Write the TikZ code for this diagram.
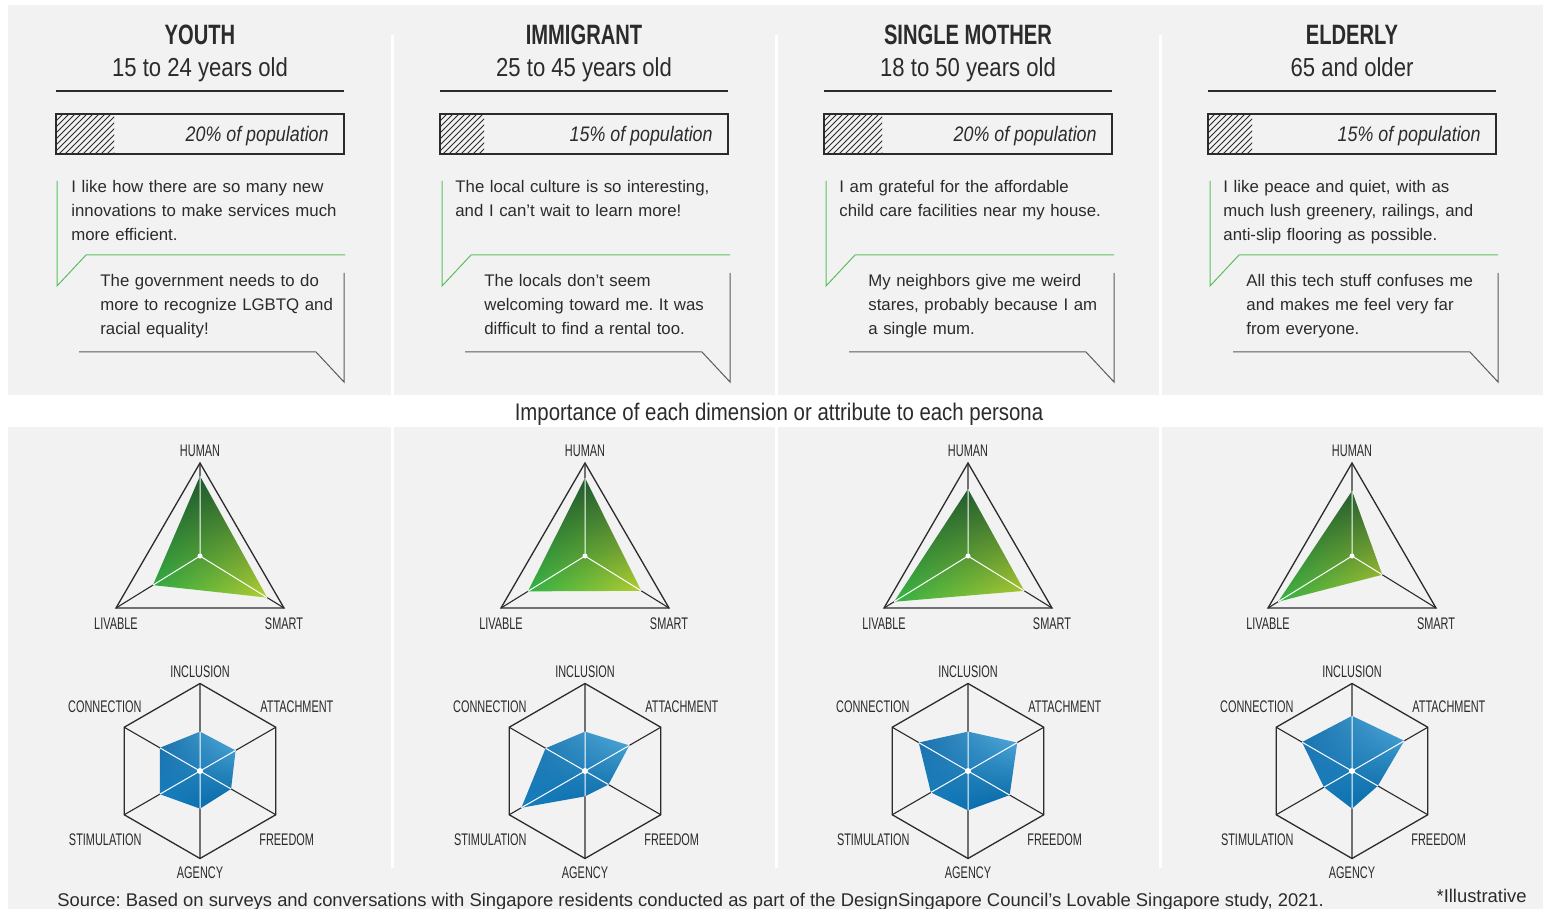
\documentclass[tikz,border=0pt]{standalone}
\usepackage{fontspec}
\setmainfont{Liberation Sans}
\newfontfamily\condfont[FakeStretch=0.72]{Liberation Sans}
\newfontfamily\labelfont[FakeStretch=0.65]{Liberation Sans}
\newfontfamily\semicond[FakeStretch=0.85]{Liberation Sans}
\frenchspacing
\usetikzlibrary{calc,patterns,shadings}

\definecolor{panel}{HTML}{F2F2F2}
\definecolor{ink}{HTML}{2B2B2B}
\definecolor{quote}{HTML}{5CBF5C}
\definecolor{bubble}{HTML}{5A5A5A}
\definecolor{gdark}{RGB}{18,80,42}
\definecolor{golive}{RGB}{45,100,48}
\definecolor{gbright}{RGB}{52,178,68}
\definecolor{gyellow}{RGB}{180,206,48}
\definecolor{bmid}{RGB}{28,112,170}
\definecolor{blight}{RGB}{85,175,222}
\definecolor{bleft}{RGB}{22,128,192}
\definecolor{bdark}{RGB}{0,96,158}

\tikzset{
  persona/.style={font=\condfont\bfseries\fontsize{14}{16}\selectfont, text=ink, inner sep=0pt, anchor=base},
  agegroup/.style={font=\semicond\fontsize{13}{15}\selectfont, text=ink, inner sep=0pt, anchor=base},
  share/.style={font=\semicond\itshape\fontsize{10.5}{12}\selectfont, text=ink, inner sep=0pt, anchor=base east},
  saying/.style={font=\fontsize{8.4}{12}\selectfont, text=ink, inner sep=0pt, anchor=base west, align=left, text width=150pt},
  heading/.style={font=\semicond\fontsize{12}{14}\selectfont, text=ink, inner sep=0pt, anchor=base},
  axislabel/.style={font=\labelfont\fontsize{8.4}{10}\selectfont, text=ink, inner sep=0pt, anchor=base},
  footnote/.style={font=\fontsize{9.2}{11}\selectfont, text=ink, inner sep=0pt},
  divider/.style={draw=white, line width=1.5pt},
  rule/.style={draw=ink, line width=0.6pt},
  bar/.style={draw=ink, line width=0.6pt},
  hatch/.style={pattern=north east lines, pattern color=ink},
  goodquote/.style={draw=quote, line width=0.5pt},
  badquote/.style={draw=bubble, line width=0.5pt},
  frame/.style={draw=ink, line width=0.65pt, line join=miter},
  spoke/.style={draw=ink, line width=0.55pt},
  datspoke/.style={draw=white, line width=0.5pt},
  greenfill/.style={shading=bilinear interpolation, upper left=gdark, upper right=golive, lower left=gbright, lower right=gyellow},
  bluefill/.style={shading=bilinear interpolation, upper left=bmid, upper right=blight, lower left=bleft, lower right=bdark}
}

\begin{document}
\begin{tikzpicture}[x=0.5pt,y=0.5pt]
\useasboundingbox (0,0) rectangle (1543,-909);
\fill[white] (0,0) rectangle (1543,-909);
\fill[panel] (8,-5) rectangle (1543,-395);
\fill[panel] (8,-427) rectangle (1543,-909);
\draw[divider] (392,-35) -- (392,-395) (776,-35) -- (776,-395) (1160,-35) -- (1160,-395);
\draw[divider] (392,-427) -- (392,-868) (776,-427) -- (776,-868) (1160,-427) -- (1160,-868);
\node[heading] (importance) at (779,-421) {Importance of each dimension or attribute to each persona};

% youth
\begin{scope}
\node[persona] (y-name) at (200,-45) {YOUTH};
\node[agegroup] (y-years) at (200,-77) {15 to 24 years old};
\draw[rule] (56,-91) -- (344,-91);
\fill[hatch] (56,-114) rectangle (114,-154);
\draw[bar] (56,-114) rectangle (344,-154);
\node[share] (y-share) at (329,-142) {20\% of population};
\draw[goodquote] (57,-181) -- (57,-286) -- (86,-255) -- (345,-255);
\node[saying] (y-good) at (71,-193) {I like how there are so many new\\innovations to make services much\\more efficient.};
\draw[badquote] (344,-273) -- (344,-382) -- (316,-352) -- (79,-352);
\node[saying] (y-bad) at (100,-287) {The government needs to do\\more to recognize LGBTQ and\\racial equality!};
\coordinate (y-c) at (200,-556);
\coordinate (y-h) at (200,-463);
\coordinate (y-l) at (116,-608);
\coordinate (y-s) at (284,-608);
\draw[frame] (y-h) -- (y-l) -- (y-s) -- cycle;
\draw[spoke] (y-c) -- (y-h) (y-c) -- (y-l) (y-c) -- (y-s);
\coordinate (y-dh) at ($(y-c)!0.86!(y-h)$);
\coordinate (y-dl) at ($(y-c)!0.56!(y-l)$);
\coordinate (y-ds) at ($(y-c)!0.80!(y-s)$);
\shade[greenfill] (y-dh) -- (y-dl) -- (y-ds) -- cycle;
\draw[datspoke] (y-c) -- (y-dh) (y-c) -- (y-dl) (y-c) -- (y-ds);
\fill[white] (y-c) circle (2.5);
\node[axislabel] (y-human) at (200,-457) {HUMAN};
\node[axislabel] (y-livable) at (116,-629) {LIVABLE};
\node[axislabel] (y-smart) at (284,-629) {SMART};
\coordinate (y-o) at (200,-771);
\coordinate (y-inc) at ($(y-o)+(90:87.5)$);
\coordinate (y-att) at ($(y-o)+(30:87.5)$);
\coordinate (y-fre) at ($(y-o)+(-30:87.5)$);
\coordinate (y-agc) at ($(y-o)+(-90:87.5)$);
\coordinate (y-sti) at ($(y-o)+(210:87.5)$);
\coordinate (y-con) at ($(y-o)+(150:87.5)$);
\draw[frame] (y-inc) -- (y-att) -- (y-fre) -- (y-agc) -- (y-sti) -- (y-con) -- cycle;
\draw[spoke] (y-inc) -- (y-agc) (y-att) -- (y-sti) (y-fre) -- (y-con);
\shade[bluefill] ($(y-o)!0.45!(y-inc)$) -- ($(y-o)!0.47!(y-att)$) -- ($(y-o)!0.41!(y-fre)$) -- ($(y-o)!0.43!(y-agc)$) -- ($(y-o)!0.53!(y-sti)$) -- ($(y-o)!0.53!(y-con)$) -- cycle;
\draw[datspoke] (y-o) -- ($(y-o)!0.45!(y-inc)$) (y-o) -- ($(y-o)!0.47!(y-att)$) (y-o) -- ($(y-o)!0.41!(y-fre)$) (y-o) -- ($(y-o)!0.43!(y-agc)$) (y-o) -- ($(y-o)!0.53!(y-sti)$) (y-o) -- ($(y-o)!0.53!(y-con)$);
\fill[white] (y-o) circle (3);
\node[axislabel] (y-inclusion) at (200,-677) {INCLUSION};
\node[axislabel, anchor=base east] (y-connection) at (142,-712) {CONNECTION};
\node[axislabel, anchor=base west] (y-attachment) at (260,-712) {ATTACHMENT};
\node[axislabel, anchor=base east] (y-stimulation) at (142,-845) {STIMULATION};
\node[axislabel, anchor=base west] (y-freedom) at (259,-845) {FREEDOM};
\node[axislabel] (y-agency) at (200,-878) {AGENCY};
\end{scope}

% immigrant
\begin{scope}[shift={(384,0)}]
\node[persona] (i-name) at (200,-45) {IMMIGRANT};
\node[agegroup] (i-years) at (200,-77) {25 to 45 years old};
\draw[rule] (56,-91) -- (344,-91);
\fill[hatch] (56,-114) rectangle (100,-154);
\draw[bar] (56,-114) rectangle (344,-154);
\node[share] (i-share) at (329,-142) {15\% of population};
\draw[goodquote] (58,-181) -- (58,-286) -- (87,-255) -- (346,-255);
\node[saying] (i-good) at (71,-193) {The local culture is so interesting,\\and I can’t wait to learn more!};
\draw[badquote] (346,-273) -- (346,-382) -- (318,-352) -- (81,-352);
\node[saying] (i-bad) at (100,-287) {The locals don’t seem\\welcoming toward me. It was\\difficult to find a rental too.};
\coordinate (i-c) at (201,-556);
\coordinate (i-h) at (201,-463);
\coordinate (i-l) at (117,-608);
\coordinate (i-s) at (285,-608);
\draw[frame] (i-h) -- (i-l) -- (i-s) -- cycle;
\draw[spoke] (i-c) -- (i-h) (i-c) -- (i-l) (i-c) -- (i-s);
\coordinate (i-dh) at ($(i-c)!0.84!(i-h)$);
\coordinate (i-dl) at ($(i-c)!0.68!(i-l)$);
\coordinate (i-ds) at ($(i-c)!0.67!(i-s)$);
\shade[greenfill] (i-dh) -- (i-dl) -- (i-ds) -- cycle;
\draw[datspoke] (i-c) -- (i-dh) (i-c) -- (i-dl) (i-c) -- (i-ds);
\fill[white] (i-c) circle (2.5);
\node[axislabel] (i-human) at (201,-457) {HUMAN};
\node[axislabel] (i-livable) at (117,-629) {LIVABLE};
\node[axislabel] (i-smart) at (285,-629) {SMART};
\coordinate (i-o) at (201,-771);
\coordinate (i-inc) at ($(i-o)+(90:87.5)$);
\coordinate (i-att) at ($(i-o)+(30:87.5)$);
\coordinate (i-fre) at ($(i-o)+(-30:87.5)$);
\coordinate (i-agc) at ($(i-o)+(-90:87.5)$);
\coordinate (i-sti) at ($(i-o)+(210:87.5)$);
\coordinate (i-con) at ($(i-o)+(150:87.5)$);
\draw[frame] (i-inc) -- (i-att) -- (i-fre) -- (i-agc) -- (i-sti) -- (i-con) -- cycle;
\draw[spoke] (i-inc) -- (i-agc) (i-att) -- (i-sti) (i-fre) -- (i-con);
\shade[bluefill] ($(i-o)!0.45!(i-inc)$) -- ($(i-o)!0.585!(i-att)$) -- ($(i-o)!0.31!(i-fre)$) -- ($(i-o)!0.29!(i-agc)$) -- ($(i-o)!0.84!(i-sti)$) -- ($(i-o)!0.52!(i-con)$) -- cycle;
\draw[datspoke] (i-o) -- ($(i-o)!0.45!(i-inc)$) (i-o) -- ($(i-o)!0.585!(i-att)$) (i-o) -- ($(i-o)!0.31!(i-fre)$) (i-o) -- ($(i-o)!0.29!(i-agc)$) (i-o) -- ($(i-o)!0.84!(i-sti)$) (i-o) -- ($(i-o)!0.52!(i-con)$);
\fill[white] (i-o) circle (3);
\node[axislabel] (i-inclusion) at (201,-677) {INCLUSION};
\node[axislabel, anchor=base east] (i-connection) at (143,-712) {CONNECTION};
\node[axislabel, anchor=base west] (i-attachment) at (261,-712) {ATTACHMENT};
\node[axislabel, anchor=base east] (i-stimulation) at (143,-845) {STIMULATION};
\node[axislabel, anchor=base west] (i-freedom) at (260,-845) {FREEDOM};
\node[axislabel] (i-agency) at (201,-878) {AGENCY};
\end{scope}

% single mother
\begin{scope}[shift={(768,0)}]
\node[persona] (s-name) at (200,-45) {SINGLE MOTHER};
\node[agegroup] (s-years) at (200,-77) {18 to 50 years old};
\draw[rule] (56,-91) -- (344,-91);
\fill[hatch] (56,-114) rectangle (114,-154);
\draw[bar] (56,-114) rectangle (344,-154);
\node[share] (s-share) at (329,-142) {20\% of population};
\draw[goodquote] (58,-181) -- (58,-286) -- (87,-255) -- (346,-255);
\node[saying] (s-good) at (71,-193) {I am grateful for the affordable\\child care facilities near my house.};
\draw[badquote] (346,-273) -- (346,-382) -- (318,-352) -- (81,-352);
\node[saying] (s-bad) at (100,-287) {My neighbors give me weird\\stares, probably because I am\\a single mum.};
\coordinate (s-c) at (200,-556);
\coordinate (s-h) at (200,-463);
\coordinate (s-l) at (116,-608);
\coordinate (s-s) at (284,-608);
\draw[frame] (s-h) -- (s-l) -- (s-s) -- cycle;
\draw[spoke] (s-c) -- (s-h) (s-c) -- (s-l) (s-c) -- (s-s);
\coordinate (s-dh) at ($(s-c)!0.72!(s-h)$);
\coordinate (s-dl) at ($(s-c)!0.88!(s-l)$);
\coordinate (s-ds) at ($(s-c)!0.67!(s-s)$);
\shade[greenfill] (s-dh) -- (s-dl) -- (s-ds) -- cycle;
\draw[datspoke] (s-c) -- (s-dh) (s-c) -- (s-dl) (s-c) -- (s-ds);
\fill[white] (s-c) circle (2.5);
\node[axislabel] (s-human) at (200,-457) {HUMAN};
\node[axislabel] (s-livable) at (116,-629) {LIVABLE};
\node[axislabel] (s-smart) at (284,-629) {SMART};
\coordinate (s-o) at (200,-771);
\coordinate (s-inc) at ($(s-o)+(90:87.5)$);
\coordinate (s-att) at ($(s-o)+(30:87.5)$);
\coordinate (s-fre) at ($(s-o)+(-30:87.5)$);
\coordinate (s-agc) at ($(s-o)+(-90:87.5)$);
\coordinate (s-sti) at ($(s-o)+(210:87.5)$);
\coordinate (s-con) at ($(s-o)+(150:87.5)$);
\draw[frame] (s-inc) -- (s-att) -- (s-fre) -- (s-agc) -- (s-sti) -- (s-con) -- cycle;
\draw[spoke] (s-inc) -- (s-agc) (s-att) -- (s-sti) (s-fre) -- (s-con);
\shade[bluefill] ($(s-o)!0.45!(s-inc)$) -- ($(s-o)!0.65!(s-att)$) -- ($(s-o)!0.55!(s-fre)$) -- ($(s-o)!0.45!(s-agc)$) -- ($(s-o)!0.49!(s-sti)$) -- ($(s-o)!0.65!(s-con)$) -- cycle;
\draw[datspoke] (s-o) -- ($(s-o)!0.45!(s-inc)$) (s-o) -- ($(s-o)!0.65!(s-att)$) (s-o) -- ($(s-o)!0.55!(s-fre)$) (s-o) -- ($(s-o)!0.45!(s-agc)$) (s-o) -- ($(s-o)!0.49!(s-sti)$) (s-o) -- ($(s-o)!0.65!(s-con)$);
\fill[white] (s-o) circle (3);
\node[axislabel] (s-inclusion) at (200,-677) {INCLUSION};
\node[axislabel, anchor=base east] (s-connection) at (142,-712) {CONNECTION};
\node[axislabel, anchor=base west] (s-attachment) at (260,-712) {ATTACHMENT};
\node[axislabel, anchor=base east] (s-stimulation) at (142,-845) {STIMULATION};
\node[axislabel, anchor=base west] (s-freedom) at (259,-845) {FREEDOM};
\node[axislabel] (s-agency) at (200,-878) {AGENCY};
\end{scope}

% elderly
\begin{scope}[shift={(1152,0)}]
\node[persona] (e-name) at (200,-45) {ELDERLY};
\node[agegroup] (e-years) at (200,-77) {65 and older};
\draw[rule] (56,-91) -- (344,-91);
\fill[hatch] (56,-114) rectangle (100,-154);
\draw[bar] (56,-114) rectangle (344,-154);
\node[share] (e-share) at (329,-142) {15\% of population};
\draw[goodquote] (58,-181) -- (58,-286) -- (87,-255) -- (346,-255);
\node[saying] (e-good) at (71,-193) {I like peace and quiet, with as\\much lush greenery, railings, and\\anti-slip flooring as possible.};
\draw[badquote] (346,-273) -- (346,-382) -- (318,-352) -- (81,-352);
\node[saying] (e-bad) at (94,-287) {All this tech stuff confuses me\\and makes me feel very far\\from everyone.};
\coordinate (e-c) at (200,-556);
\coordinate (e-h) at (200,-463);
\coordinate (e-l) at (116,-608);
\coordinate (e-s) at (284,-608);
\draw[frame] (e-h) -- (e-l) -- (e-s) -- cycle;
\draw[spoke] (e-c) -- (e-h) (e-c) -- (e-l) (e-c) -- (e-s);
\coordinate (e-dh) at ($(e-c)!0.70!(e-h)$);
\coordinate (e-dl) at ($(e-c)!0.88!(e-l)$);
\coordinate (e-ds) at ($(e-c)!0.36!(e-s)$);
\shade[greenfill] (e-dh) -- (e-dl) -- (e-ds) -- cycle;
\draw[datspoke] (e-c) -- (e-dh) (e-c) -- (e-dl) (e-c) -- (e-ds);
\fill[white] (e-c) circle (2.5);
\node[axislabel] (e-human) at (200,-457) {HUMAN};
\node[axislabel] (e-livable) at (116,-629) {LIVABLE};
\node[axislabel] (e-smart) at (284,-629) {SMART};
\coordinate (e-o) at (200,-771);
\coordinate (e-inc) at ($(e-o)+(90:87.5)$);
\coordinate (e-att) at ($(e-o)+(30:87.5)$);
\coordinate (e-fre) at ($(e-o)+(-30:87.5)$);
\coordinate (e-agc) at ($(e-o)+(-90:87.5)$);
\coordinate (e-sti) at ($(e-o)+(210:87.5)$);
\coordinate (e-con) at ($(e-o)+(150:87.5)$);
\draw[frame] (e-inc) -- (e-att) -- (e-fre) -- (e-agc) -- (e-sti) -- (e-con) -- cycle;
\draw[spoke] (e-inc) -- (e-agc) (e-att) -- (e-sti) (e-fre) -- (e-con);
\shade[bluefill] ($(e-o)!0.63!(e-inc)$) -- ($(e-o)!0.69!(e-att)$) -- ($(e-o)!0.34!(e-fre)$) -- ($(e-o)!0.43!(e-agc)$) -- ($(e-o)!0.37!(e-sti)$) -- ($(e-o)!0.66!(e-con)$) -- cycle;
\draw[datspoke] (e-o) -- ($(e-o)!0.63!(e-inc)$) (e-o) -- ($(e-o)!0.69!(e-att)$) (e-o) -- ($(e-o)!0.34!(e-fre)$) (e-o) -- ($(e-o)!0.43!(e-agc)$) (e-o) -- ($(e-o)!0.37!(e-sti)$) (e-o) -- ($(e-o)!0.66!(e-con)$);
\fill[white] (e-o) circle (3);
\node[axislabel] (e-inclusion) at (200,-677) {INCLUSION};
\node[axislabel, anchor=base east] (e-connection) at (142,-712) {CONNECTION};
\node[axislabel, anchor=base west] (e-attachment) at (260,-712) {ATTACHMENT};
\node[axislabel, anchor=base east] (e-stimulation) at (142,-845) {STIMULATION};
\node[axislabel, anchor=base west] (e-freedom) at (259,-845) {FREEDOM};
\node[axislabel] (e-agency) at (200,-878) {AGENCY};
\end{scope}

\node[footnote, anchor=base west] (source) at (57,-906) {Source: Based on surveys and conversations with Singapore residents conducted as part of the DesignSingapore Council’s Lovable Singapore study, 2021.};
\node[footnote, anchor=base east] (illustrative) at (1527,-902) {*Illustrative};
\end{tikzpicture}
\end{document}
